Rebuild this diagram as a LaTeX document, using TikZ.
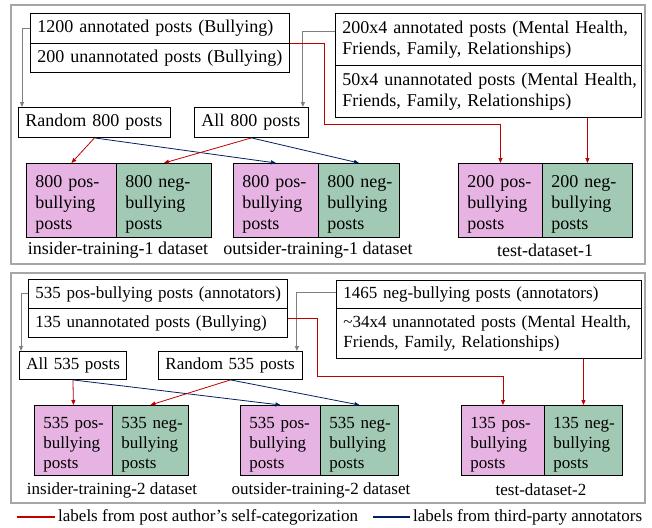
\documentclass[tikz,border=0pt]{standalone}
\usepackage{fontspec}
\setmainfont{Liberation Serif}
\usetikzlibrary{arrows.meta,calc}
\definecolor{posfill}{HTML}{E6B3E3}
\definecolor{negfill}{HTML}{A2C9B4}
\definecolor{selfred}{HTML}{C00000}
\definecolor{thirdblue}{HTML}{002060}
\definecolor{feedgray}{HTML}{7F7F7F}
\definecolor{panelgray}{HTML}{A6A6A6}
\begin{document}
\begin{tikzpicture}[x=1pt,y=-1pt]
\tikzstyle{src} = [draw,line width=0.9pt,anchor=north west,inner sep=0pt,align=left,font=\fontsize{18}{21}\selectfont,execute at begin node={\leftskip=7pt}];
\tikzstyle{small} = [font=\fontsize{17}{20}\selectfont];
\tikzstyle{posbox} = [src,fill=posfill,text height=20pt,minimum height=74pt,execute at begin node={\leftskip=9pt}];
\tikzstyle{negbox} = [posbox,fill=negfill];
\tikzstyle{caption} = [font=\fontsize{18}{21}\selectfont];
\tikzstyle{self} = [-{Triangle[length=5pt,width=4pt]},selfred,line width=0.8pt];
\tikzstyle{third} = [self,thirdblue];
\tikzstyle{feed} = [-{Triangle[length=5pt,width=4pt]},feedgray,line width=1pt];
\tikzstyle{panel} = [draw=panelgray,line width=1.2pt];

\useasboundingbox (0,0) rectangle (652,527);
\draw [panel] (11,5) rectangle (645,264);
\draw [panel] (11,273) rectangle (645,503);

% first split
\node [src,text width=259pt,minimum height=30pt] (ann1) at (30,13) {1200 annotated posts (Bullying)};
\node [src,text width=259pt,minimum height=29pt] (unann1) at (30,43) {200 unannotated posts (Bullying)};
\node [src,text width=306pt,minimum height=52pt] (ann2) at (335,13) {200x4 annotated posts (Mental Health,\\Friends, Family, Relationships)};
\node [src,text width=306pt,minimum height=52pt] (unann2) at (335,65) {50x4 unannotated posts (Mental Health,\\Friends, Family, Relationships)};
\node [src,text width=152pt,minimum height=30pt] (rand1) at (18,107) {Random 800 posts};
\node [src,text width=114pt,minimum height=30pt] (all1) at (194,107) {All 800 posts};

\node [posbox,text width=90pt] (ip1) at (26,163) {800 pos-\\bullying\\posts};
\node [negbox,text width=95pt] (in1) at (116,163) {800 neg-\\bullying\\posts};
\node [posbox,text width=85pt] (op1) at (233,163) {800 pos-\\bullying\\posts};
\node [negbox,text width=81pt] (on1) at (318,163) {800 neg-\\bullying\\posts};
\node [posbox,text width=84pt] (tp1) at (458,163) {200 pos-\\bullying\\posts};
\node [negbox,text width=90pt] (tn1) at (542,163) {200 neg-\\bullying\\posts};
\node [caption] (cap1) at (118,250) {insider-training-1 dataset};
\node [caption] (cap2) at (318,250) {outsider-training-1 dataset};
\node [caption] (cap3) at (545,250) {test-dataset-1};

\draw [feed] (ann1.west) -| ($(rand1.north west)+(4,0)$);
\draw [feed] ($(ann2.north west)+(0,19)$) -| ($(all1.north east)+(-6,0)$);
\draw [self] (unann1.north east) -- ++(34,0) -- ++(0,81) -| (tp1.north);
\draw [self] (tn1.north |- unann2.south) -- (tn1.north);
\draw [self] (rand1.south) -- (ip1.north);
\draw [third] (rand1.south) -- (op1.north);
\draw [self] (all1.south) -- (in1.north);
\draw [third] (all1.south) -- (on1.north);

% second split
\node [src,small,text width=259pt,minimum height=29pt] (ann3) at (28,279) {535 pos-bullying posts (annotators)};
\node [src,small,text width=259pt,minimum height=29pt] (unann3) at (28,308) {135 unannotated posts (Bullying)};
\node [src,small,text width=305pt,minimum height=28pt] (ann4) at (336,280) {1465 neg-bullying posts (annotators)};
\node [src,small,text width=305pt,minimum height=50pt] (unann4) at (336,308) {\textasciitilde 34x4 unannotated posts (Mental Health,\\Friends, Family, Relationships)};
\node [src,small,text width=107pt,minimum height=28pt] (all3) at (19,351) {All 535 posts};
\node [src,small,text width=144pt,minimum height=28pt] (rand3) at (158,351) {Random 535 posts};

\node [posbox,small,text width=78pt,minimum height=70pt] (ip2) at (34,405) {535 pos-\\bullying\\posts};
\node [negbox,small,text width=76pt,minimum height=70pt] (in2) at (112,405) {535 neg-\\bullying\\posts};
\node [posbox,small,text width=80pt,minimum height=70pt] (op2) at (240,405) {535 pos-\\bullying\\posts};
\node [negbox,small,text width=78pt,minimum height=70pt] (on2) at (320,405) {535 neg-\\bullying\\posts};
\node [posbox,small,text width=83pt,minimum height=70pt] (tp2) at (461,405) {135 pos-\\bullying\\posts};
\node [negbox,small,text width=78pt,minimum height=70pt] (tn2) at (544,405) {135 neg-\\bullying\\posts};
\node [caption,small] (cap4) at (112,490) {insider-training-2 dataset};
\node [caption,small] (cap5) at (321,490) {outsider-training-2 dataset};
\node [caption,small] (cap6) at (541,490) {test-dataset-2};

\draw [feed] (ann3.west) -| ($(all3.north west)+(2,0)$);
\draw [feed] ($(ann4.north west)+(0,12)$) -| ($(rand3.north east)+(-6,0)$);
\draw [self] ($(unann3.north east)+(0,10)$) -- ++(29,0) -- ++(0,58) -| (tp2.north);
\draw [self] (tn2.north |- unann4.south) -- (tn2.north);
\draw [self] (all3.south) -- (ip2.north);
\draw [third] (all3.south) -- (op2.north);
\draw [self] (rand3.south) -- (in2.north);
\draw [third] (rand3.south) -- (on2.north);

% legend
\coordinate (ls) at (17,517);
\node [caption,small,anchor=west,inner xsep=3pt] (lt1) at (55,517) {labels from post author’s self-categorization};
\draw [selfred,line width=1.2pt] (ls) -- (lt1.west);
\coordinate (lb) at (373,517);
\node [caption,small,anchor=west,inner xsep=3pt] (lt2) at (410,517) {labels from third-party annotators};
\draw [thirdblue,line width=1.2pt] (lb) -- (lt2.west);
\end{tikzpicture}
\end{document}
